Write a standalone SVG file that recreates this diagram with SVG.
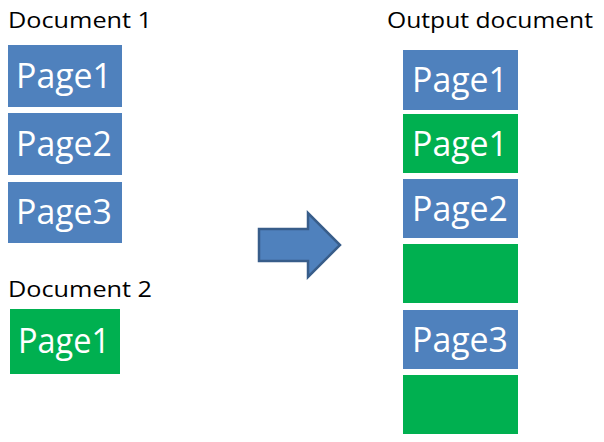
<svg xmlns="http://www.w3.org/2000/svg" width="604" height="442" viewBox="0 0 604 442">
<style>
.blue{fill:#4f81bd}
.green{fill:#00b050}
.pt{font-family:"Open Sans","Noto Sans",sans-serif;font-size:35px;fill:#ffffff;text-anchor:middle}
.lbl{font-family:"Open Sans","Noto Sans",sans-serif;font-size:21px;fill:#000000}
</style>
<rect width="604" height="442" fill="#ffffff"/>
<text class="lbl" x="8" y="28" textLength="144" lengthAdjust="spacingAndGlyphs">Document 1</text>
<text class="lbl" x="8" y="297" textLength="144" lengthAdjust="spacingAndGlyphs">Document 2</text>
<text class="lbl" x="387" y="28" textLength="206" lengthAdjust="spacingAndGlyphs">Output document</text>
<g id="d1p1"><rect class="blue" x="8" y="45" width="114" height="62"/><text class="pt" x="64" y="88" textLength="96" lengthAdjust="spacingAndGlyphs">Page1</text></g>
<g id="d1p2"><rect class="blue" x="8" y="113" width="114" height="62"/><text class="pt" x="64" y="156" textLength="96" lengthAdjust="spacingAndGlyphs">Page2</text></g>
<g id="d1p3"><rect class="blue" x="8" y="182" width="114" height="61"/><text class="pt" x="64" y="224" textLength="96" lengthAdjust="spacingAndGlyphs">Page3</text></g>
<g id="d2p1"><rect class="green" x="10" y="309" width="110" height="65"/><text class="pt" x="64" y="353" textLength="92" lengthAdjust="spacingAndGlyphs">Page1</text></g>
<g id="arrow"><polygon points="259,229 308,229 308,213 340,245 308,277 308,261 259,261" fill="#4f81bd" stroke="#385d8a" stroke-width="2.5" stroke-linejoin="miter"/></g>
<g id="o1"><rect class="blue" x="403" y="50" width="115" height="60"/><text class="pt" x="460" y="92" textLength="96" lengthAdjust="spacingAndGlyphs">Page1</text></g>
<g id="o2"><rect class="green" x="403" y="114" width="115" height="59"/><text class="pt" x="460" y="156" textLength="96" lengthAdjust="spacingAndGlyphs">Page1</text></g>
<g id="o3"><rect class="blue" x="403" y="179" width="115" height="59"/><text class="pt" x="460" y="221" textLength="96" lengthAdjust="spacingAndGlyphs">Page2</text></g>
<g id="o4"><rect class="green" x="403" y="244" width="115" height="59"/></g>
<g id="o5"><rect class="blue" x="403" y="310" width="115" height="59"/><text class="pt" x="460" y="352" textLength="96" lengthAdjust="spacingAndGlyphs">Page3</text></g>
<g id="o6"><rect class="green" x="403" y="375" width="115" height="59"/></g>
<g id="connectors"/>
</svg>
